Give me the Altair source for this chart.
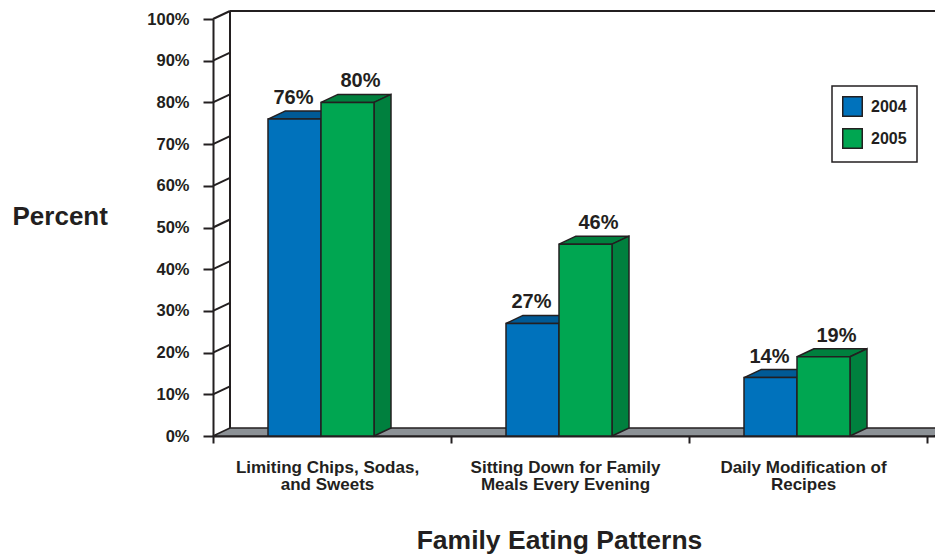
import json
import altair as alt
import pandas as pd

# ---------------- data ----------------
categories = [
    ["Limiting Chips, Sodas,", "and Sweets"],
    ["Sitting Down for Family", "Meals Every Evening"],
    ["Daily Modification of", "Recipes"],
]
years = ["2004", "2005"]
values_2004 = [76, 27, 14]
values_2005 = [80, 46, 19]
y_tick_values = list(range(0, 101, 10))

# ---------------- style / layout ----------------
FONT = "Liberation Sans"
INK = "#231f20"
FRONT = {"2004": "#0072bc", "2005": "#00a651"}
DARK = {"2004": "#005a96", "2005": "#00803e"}
FLOOR = "#8c9196"

W, H = 722, 417
UNIT = 238.0                 # pixels per category slot
XMAX = W / UNIT
DX = 17 / UNIT               # depth (x) in data units
DY = 8 / (H / 100.0)         # depth (y) in data units
BAR_W = 53 / UNIT
OFFSET = 55 / UNIT

series = {"2004": values_2004, "2005": values_2005}

front_rows, top_rows, side_rows = [], [], []
for i in range(len(categories)):
    for j, yr in enumerate(years):
        v = series[yr][i]
        x0 = i + OFFSET + j * BAR_W
        x1 = x0 + BAR_W
        bid = f"{i}-{yr}"
        front_rows.append(dict(x0=x0, x1=x1, xc=(x0 + x1) / 2, v=v, year=yr,
                               label=f"{v}%"))
        top_rows += [dict(id=bid, year=yr, y=v, xa=x0, xb=x1),
                     dict(id=bid, year=yr, y=v + DY, xa=x0 + DX, xb=x1 + DX)]
        side_rows += [dict(id=bid, year=yr, x=x1, ya=0, yb=v),
                      dict(id=bid, year=yr, x=x1 + DX, ya=DY, yb=v + DY)]

front = pd.DataFrame(front_rows)
top = pd.DataFrame(top_rows)
side = pd.DataFrame(side_rows)
floor = pd.DataFrame([dict(y=0, xa=0, xb=3.029), dict(y=DY, xa=DX, xb=3.029 + DX)])
slants = pd.DataFrame([dict(x=0, x2=DX, y=t, y2=t + DY) for t in y_tick_values[1:]])
wall_v = pd.DataFrame([dict(x=DX, y=DY, y2=100 + DY)])
wall_h = pd.DataFrame([dict(x=DX, x2=XMAX + 0.3, y=100 + DY)])

xs = alt.Scale(domain=[0, XMAX], nice=False, zero=False)
ys = alt.Scale(domain=[0, 100], nice=False, zero=False)

x_axis = alt.Axis(
    values=[0, 1, 2, 3], grid=False,
    domainColor=INK, domainWidth=2, tickColor=INK, tickWidth=2, tickSize=7,
    labelExpr=f"{json.dumps(categories)}[datum.value] || ''",
    labelOffset=114, labelAlign="center", labelBaseline="top", labelPadding=16,
    labelLineHeight=17.5, labelFont=FONT, labelFontSize=17, labelFontWeight="bold",
    labelColor=INK, labelFlush=False, labelOverlap=False, labelLimit=400,
    title="Family Eating Patterns", titleFont=FONT, titleFontSize=26.5,
    titleFontWeight="bold", titleColor=INK, titleX=346, titleY=112,
    titleAlign="center", titleBaseline="alphabetic",
)
y_axis = alt.Axis(
    values=y_tick_values, grid=False,
    domainColor=INK, domainWidth=2, tickColor=INK, tickWidth=2, tickSize=10,
    labelExpr="datum.value + '%'", labelPadding=14, labelFont=FONT,
    labelFontSize=16.5, labelFontWeight="bold", labelColor=INK,
    title="Percent", titleFont=FONT, titleFontSize=26, titleFontWeight="bold",
    titleColor=INK, titleAngle=0, titleAlign="left", titleBaseline="alphabetic",
    titleX=-201, titleY=205,
)

dark_cond = alt.condition(alt.datum.year == "2004", alt.value(DARK["2004"]),
                          alt.value(DARK["2005"]))

floor_layer = alt.Chart(floor).mark_area(
    orient="horizontal", color=FLOOR, stroke=INK, strokeWidth=1.5
).encode(
    y=alt.Y("y:Q", scale=ys, axis=y_axis),
    x=alt.X("xa:Q", scale=xs, axis=x_axis),
    x2="xb:Q",
)

slant_layer = alt.Chart(slants).mark_rule(color=INK, strokeWidth=2).encode(
    x=alt.X("x:Q", scale=xs, axis=x_axis), x2="x2:Q",
    y=alt.Y("y:Q", scale=ys, axis=y_axis), y2="y2:Q",
)
wall_v_layer = alt.Chart(wall_v).mark_rule(color=INK, strokeWidth=2).encode(
    x=alt.X("x:Q", scale=xs, axis=x_axis),
    y=alt.Y("y:Q", scale=ys, axis=y_axis), y2="y2:Q",
)
wall_h_layer = alt.Chart(wall_h).mark_rule(color=INK, strokeWidth=2).encode(
    x=alt.X("x:Q", scale=xs, axis=x_axis), x2="x2:Q",
    y=alt.Y("y:Q", scale=ys, axis=y_axis),
)

top_layer = alt.Chart(top).mark_area(
    orient="horizontal", stroke=INK, strokeWidth=1.5
).encode(
    y=alt.Y("y:Q", scale=ys, axis=y_axis),
    x=alt.X("xa:Q", scale=xs, axis=x_axis), x2="xb:Q",
    detail="id:N", fill=dark_cond,
)
side_layer = alt.Chart(side).mark_area(
    orient="vertical", stroke=INK, strokeWidth=1.5
).encode(
    x=alt.X("x:Q", scale=xs, axis=x_axis),
    y=alt.Y("ya:Q", scale=ys, axis=y_axis), y2="yb:Q",
    detail="id:N", fill=dark_cond,
)

front_layer = alt.Chart(front).mark_rect(stroke=INK, strokeWidth=1.5).encode(
    x=alt.X("x0:Q", scale=xs, axis=x_axis), x2="x1:Q",
    y=alt.Y("v:Q", scale=ys, axis=y_axis), y2=alt.datum(0),
    color=alt.Color(
        "year:N",
        scale=alt.Scale(domain=years, range=[FRONT[y] for y in years]),
        legend=alt.Legend(
            title=None, orient="none", legendX=619, legendY=67,
            direction="vertical", symbolType="square", symbolSize=380,
            symbolStrokeColor=INK, symbolStrokeWidth=1.5, symbolOpacity=1,
            labelFont=FONT, labelFontSize=16, labelFontWeight="bold",
            labelColor=INK, labelOffset=8, rowPadding=5, padding=10,
            strokeColor=INK, fillColor="white",
        ),
    ),
)

def labels(yr, dx):
    return alt.Chart(front[front.year == yr]).mark_text(
        font=FONT, fontSize=20, fontWeight="bold", color=INK,
        baseline="alphabetic", align="center", dy=-15, dx=dx,
    ).encode(
        x=alt.X("xc:Q", scale=xs, axis=x_axis),
        y=alt.Y("v:Q", scale=ys, axis=y_axis),
        text="label:N",
    )

chart = alt.layer(
    floor_layer, wall_v_layer, wall_h_layer, slant_layer,
    top_layer, side_layer, front_layer,
    labels("2004", -1), labels("2005", 13),
).properties(
    width=W, height=H,
    padding={"left": 213, "top": 19, "right": 0, "bottom": 121},
    autosize=alt.AutoSizeParams(type="none"),
).configure_view(stroke=None).configure_legend(strokeWidth=1.5)

chart.save("out.html", embed_options={"renderer": "svg", "actions": False})
